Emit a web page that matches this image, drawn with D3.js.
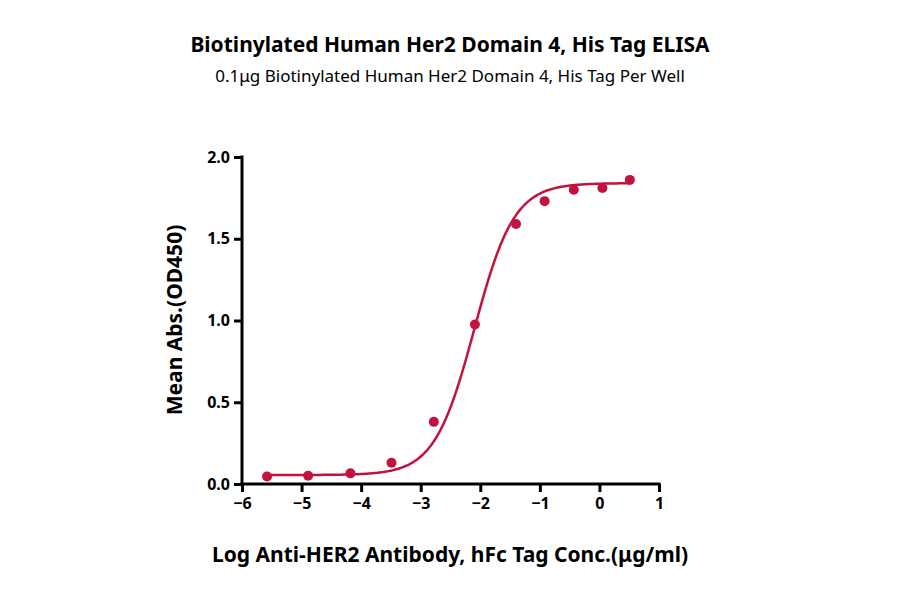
<!DOCTYPE html>
<html><head><meta charset="utf-8">
<script src="https://cdn.jsdelivr.net/npm/d3@7"></script>
<style>body{margin:0;background:#fff}text{font-family:"Noto Sans",sans-serif}</style>
</head><body><div id="chart"></div>
<script>
const logConc = [-5.58, -4.89, -4.18, -3.49, -2.78, -2.09, -1.40, -0.92, -0.43, 0.05, 0.51]
const od450 = [0.046, 0.05, 0.065, 0.13, 0.38, 0.975, 1.59, 1.73, 1.80, 1.81, 1.86]
// 4PL fit: bottom, top, logEC50, hill
const fitParams = [0.055, 1.84, -2.1, 1.3]
const xTicks = [-6, -5, -4, -3, -2, -1, 0, 1]
const yTicks = [0, 0.5, 1.0, 1.5, 2.0]

let w = 900, h = 594
let color = "#c4123f"
let svg = d3.select("#chart").append("svg").attr("width", w).attr("height", h)

let x = d3.scaleLinear().domain([-6, 1]).range([242, 659])
let y = d3.scaleLinear().domain([0, 2]).range([484, 157])

svg.append("text").attr("x", 450).attr("y", 52).attr("text-anchor", "middle")
    .style("font-size", "21px").style("font-weight", "bold")
    .text("Biotinylated Human Her2 Domain 4, His Tag ELISA")
svg.append("text").attr("x", 450).attr("y", 82).attr("text-anchor", "middle")
    .style("font-size", "17px")
    .text("0.1μg Biotinylated Human Her2 Domain 4, His Tag Per Well")

let gx = svg.append("g").attr("transform", "translate(0,484)")
    .call(d3.axisBottom(x).tickValues(xTicks).tickFormat(d3.format("d")).tickSize(8).tickPadding(6))
let gy = svg.append("g").attr("transform", "translate(242,0)")
    .call(d3.axisLeft(y).tickValues(yTicks).tickFormat(d3.format(".1f")).tickSize(8).tickPadding(4))
for (let g of [gx, gy]) {
    g.selectAll("path,line").attr("stroke", "#000").attr("stroke-width", 3)
    g.select(".domain").attr("stroke-linecap", "square")
    g.selectAll("text").style("font-size", "16px").style("font-weight", "bold").attr("fill", "#000")
        .style("font-family", "Noto Sans")
}
gx.select(".domain").attr("d", "M242,0H659")
gy.select(".domain").attr("d", "M0,157V484")

svg.append("text").attr("x", 450).attr("y", 562).attr("text-anchor", "middle")
    .style("font-size", "21px").style("font-weight", "bold")
    .text("Log Anti-HER2 Antibody, hFc Tag Conc.(μg/ml)")
svg.append("text").attr("transform", "translate(182,320) rotate(-90)").attr("text-anchor", "middle")
    .style("font-size", "21px").style("font-weight", "bold")
    .text("Mean Abs.(OD450)")

let [fitBot, fitTop, fitEc, fitHill] = fitParams
let fit = v => fitBot + (fitTop - fitBot) / (1 + Math.pow(10, (fitEc - v) * fitHill))
let curveX = d3.range(logConc[0], logConc[logConc.length - 1] + 0.001, 0.02)
svg.append("path").datum(curveX)
    .attr("d", d3.line().x(d => x(d)).y(d => y(fit(d))))
    .attr("fill", "none").attr("stroke", color).attr("stroke-width", 2.5)

svg.selectAll("circle").data(logConc).enter().append("circle")
    .attr("cx", d => x(d)).attr("cy", (d, i) => y(od450[i])).attr("r", 5).attr("fill", color)
</script></body></html>
